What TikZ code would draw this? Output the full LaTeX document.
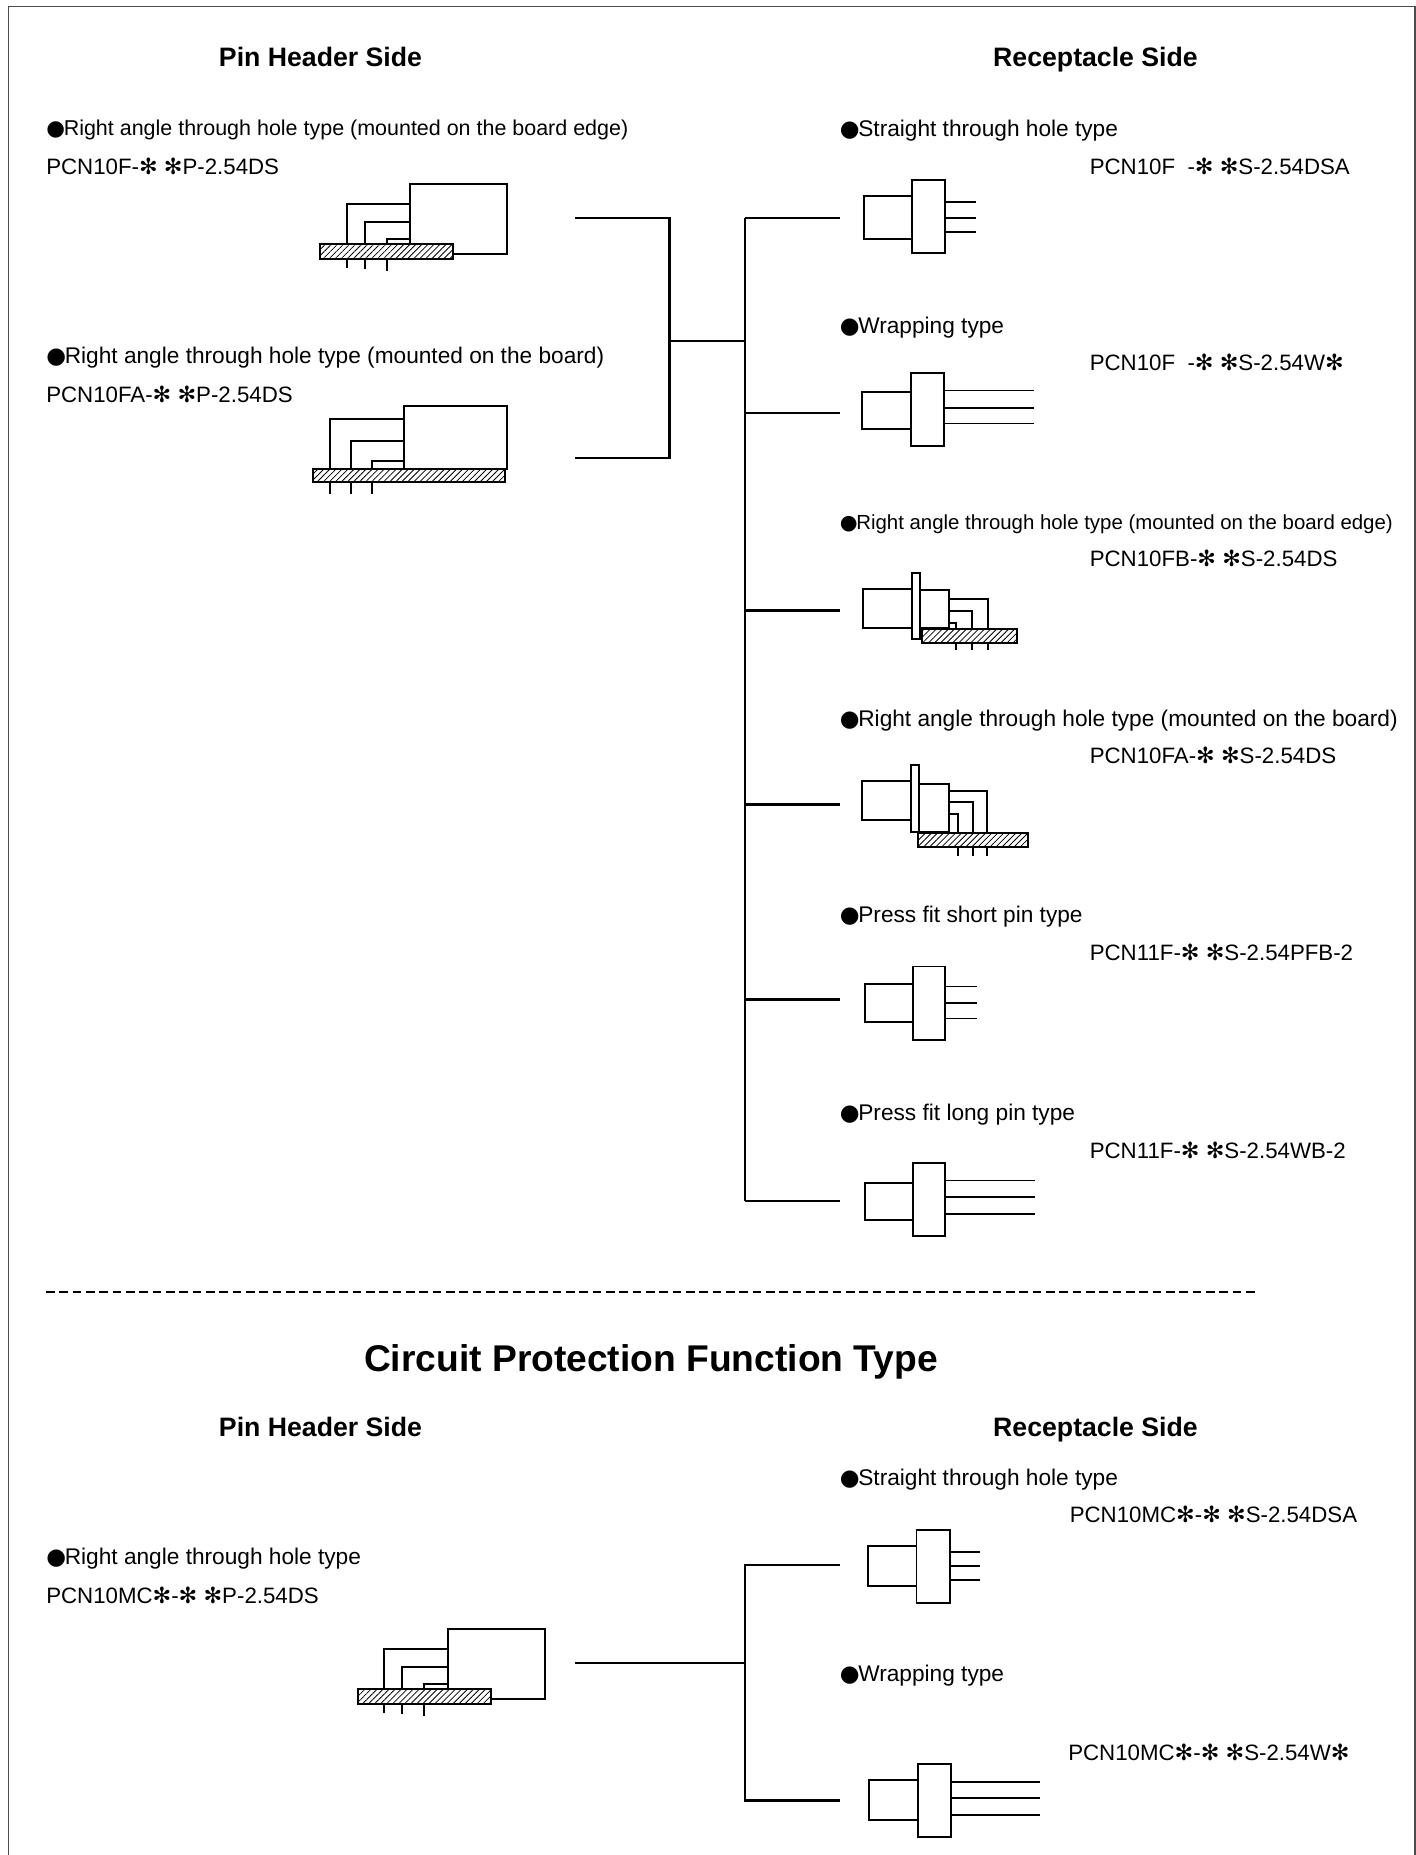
\documentclass[tikz,border=0pt]{standalone}
\usepackage{fontspec}
\setmainfont{Liberation Sans}
\newfontfamily\symfont{DejaVu Sans}
\usetikzlibrary{positioning,patterns.meta}
\newcommand{\st}{{\symfont\char"273B}}
\newcommand{\bl}{{\symfont\char"25CF}\kern-0.9pt}
\tikzset{
    wire/.style={
           line width=1.8pt,
           },
    part/.style={
           line width=1.4pt,
           fill=white,
           },
    pin/.style={
           line width=1.3pt,
           },
    board/.style={
           line width=1.5pt,
           pattern={Lines[angle=45,distance=3.2pt,line width=0.6pt]},
           },
    lbl/.style={
           anchor=base west,
           inner sep=0,
           font=\fontsize{17}{18}\selectfont,
           },
    partno/.style={
           lbl,
           font=\fontsize{16.7}{18}\selectfont,
           },
    head/.style={
           anchor=base,
           inner sep=0,
           font=\fontsize{20}{22}\selectfont\bfseries,
           },
}
% straight plug: left, split, right of flange, pin end, box top/bottom, flange top/bottom, three pins
\newcommand{\plug}[9]{
  \draw[part] (#1,#5) rectangle (#2,#6);
  \draw[part] (#2,#7) rectangle (#3,#8);
  \foreach \p in {#9} \draw[pin] (#3,\p) -- (#4,\p);
}
\begin{document}
\begin{tikzpicture}[x=0.75pt,y=-0.75pt]
\useasboundingbox (0,0) rectangle (1416,1855);
\draw[line width=0.9pt,color=black!70] (8.5,1855) -- (8.5,6.5) -- (1415,6.5) -- (1415,1855);

% headings
\node[head] (hpin) at (320.5,67) {Pin Header Side};
\node[head] (hrec) at (1095.5,67) {Receptacle Side};
\node[head,font=\fontsize{27.9}{30}\selectfont\bfseries] (title) at (651,1371) {Circuit Protection Function Type};
\node[head] (hpinb) at (320.5,1436) {Pin Header Side};
\node[head] (hrecb) at (1095.5,1436) {Receptacle Side};

% pin header side
\node[lbl,font=\fontsize{16.1}{18}\selectfont] (t1) at (46,136) {\bl Right angle through hole type (mounted on the board edge)};
\node[partno] (p1) at (46,175) {PCN10F-\st\ \st P-2.54DS};
\node[lbl] (t2) at (46,363) {\bl Right angle through hole type (mounted on the board)};
\node[partno] (p2) at (46,402) {PCN10FA-\st\ \st P-2.54DS};
\node[lbl] (t3) at (46,1564) {\bl Right angle through hole type};
\node[partno] (p3) at (46,1603) {PCN10MC\st-\st\ \st P-2.54DS};

% receptacle side
\node[lbl] (r1) at (839.5,137) {\bl Straight through hole type};
\node[partno] (q1) at (1089.5,175) {PCN10F\ \ -\st\ \st S-2.54DSA};
\node[lbl] (r2) at (839.5,333) {\bl Wrapping type};
\node[partno] (q2) at (1089.5,370) {PCN10F\ \ -\st\ \st S-2.54W\st};
\node[lbl,font=\fontsize{15.3}{18}\selectfont] (r3) at (839.5,529) {\bl Right angle through hole type (mounted on the board edge)};
\node[partno] (q3) at (1089.5,566) {PCN10FB-\st\ \st S-2.54DS};
\node[lbl] (r4) at (839.5,726) {\bl Right angle through hole type (mounted on the board)};
\node[partno] (q4) at (1089.5,763) {PCN10FA-\st\ \st S-2.54DS};
\node[lbl] (r5) at (839.5,922) {\bl Press fit short pin type};
\node[partno] (q5) at (1089.5,960) {PCN11F-\st\ \st S-2.54PFB-2};
\node[lbl] (r6) at (839.5,1120) {\bl Press fit long pin type};
\node[partno] (q6) at (1089.5,1158) {PCN11F-\st\ \st S-2.54WB-2};
\node[lbl] (r7) at (839.5,1485) {\bl Straight through hole type};
\node[partno] (q7) at (1069.5,1522) {PCN10MC\st-\st\ \st S-2.54DSA};
\node[lbl] (r8) at (839.5,1681) {\bl Wrapping type};
\node[partno] (q8) at (1068,1760) {PCN10MC\st-\st\ \st S-2.54W\st};

% connecting lines
\coordinate (la) at (575,217.7);
\coordinate (lb) at (575,457.8);
\coordinate (lc) at (669.6,217.7);
\coordinate (ld) at (669.6,457.8);
\coordinate (lm) at (669.6,340.7);
\coordinate (tt) at (745,217.7);
\coordinate (tb) at (745,1200.7);
\coordinate (tm) at (745,340.7);
\draw[wire] (la) -- (lc) -- (ld) -- (lb);
\draw[wire] (lm) -- (tm);
\draw[wire] (tt) -- (tb);
\foreach \n/\y in {1/217.7,2/413,3/610.4,4/804.4,5/999.6,6/1200.7}{
  \coordinate (u\n) at (745,\y);
  \coordinate (v\n) at (840,\y);
  \draw[wire] (u\n) -- (v\n);
}
\coordinate (sa) at (575,1663);
\coordinate (st) at (745,1565);
\coordinate (sb) at (745,1800.5);
\coordinate (sm) at (745,1663);
\coordinate (se) at (840,1565);
\coordinate (sf) at (840,1800.5);
\draw[wire] (sa) -- (sm);
\draw[wire] (se) -- (st) -- (sb) -- (sf);

% plugs
\plug{863.6}{912}{945}{976}{196.4}{239}{180}{253}{202.3,217.7,232}
\plug{862.4}{911}{944}{1034}{391.6}{429.4}{372.6}{446}{390.4,408,423.5}
\plug{864.8}{913}{945}{977}{984}{1022}{966.5}{1040}{986.6,1003,1018.6}
\plug{865}{913}{945}{1035}{1183}{1219.7}{1163}{1236}{1180.6,1197,1213.7}
\plug{867.6}{916.5}{949.7}{980}{1546.3}{1586}{1529.7}{1602.7}{1552.3,1566,1579.7}
\plug{869}{918.4}{950.8}{1040}{1780.3}{1820.3}{1763.7}{1836.7}{1782,1798.3,1814.7}

% header with board, first
\draw[part] (409.7,184) rectangle (507.3,253.7);
\draw[pin] (346.7,268) |- (409.7,203.7);
\draw[pin] (364.7,269) |- (409.7,222);
\draw[pin] (387,271) |- (409.7,238.7);
\draw[part] (319.7,243.7) rectangle (453.3,258.7);
\draw[board] (319.7,243.7) rectangle (453.3,258.7);
% second
\draw[part] (404,405.7) rectangle (506.7,469.3);
\draw[pin] (330.3,494) |- (404,419);
\draw[pin] (350.7,494) |- (404,440.7);
\draw[pin] (372,494) |- (404,460.7);
\draw[part] (313,468.7) rectangle (504.7,482);
\draw[board] (313,468.7) rectangle (504.7,482);
% third
\draw[part] (447.7,1629.3) rectangle (545,1699);
\draw[pin] (384.3,1713) |- (447.7,1649);
\draw[pin] (402.3,1714) |- (447.7,1667);
\draw[pin] (424.3,1716) |- (447.7,1684);
\draw[part] (358.3,1688.7) rectangle (491,1703.7);
\draw[board] (358.3,1688.7) rectangle (491,1703.7);

% right angle receptacles
\draw[pin] (987.7,650) |- (949,598.7);
\draw[pin] (972.3,650) |- (949,611.3);
\draw[pin] (955.7,650) |- (949,622.7);
\draw[part] (863.3,589.3) rectangle (911.7,628);
\draw[part] (920.3,590) rectangle (949,628);
\draw[part] (911.7,572.7) rectangle (920.3,639.3);
\draw[part] (921.7,629) rectangle (1016.7,643);
\draw[board] (921.7,629) rectangle (1016.7,643);

\draw[pin] (986.7,855.7) |- (949.3,790.7);
\draw[pin] (972.7,855.7) |- (949.3,802);
\draw[pin] (958,855.7) |- (949.3,814);
\draw[part] (862.3,781.3) rectangle (910.7,820);
\draw[part] (919.3,784) rectangle (949.3,832);
\draw[part] (910.7,765) rectangle (919.3,831.7);
\draw[part] (917.7,833.3) rectangle (1028.3,847);
\draw[board] (917.7,833.3) rectangle (1028.3,847);

% divider
\coordinate (da) at (46,1292);
\coordinate (db) at (1255,1292);
\draw[line width=1.5pt,dash pattern=on 6.5pt off 3.5pt] (da) -- (db);
\end{tikzpicture}
\end{document}
